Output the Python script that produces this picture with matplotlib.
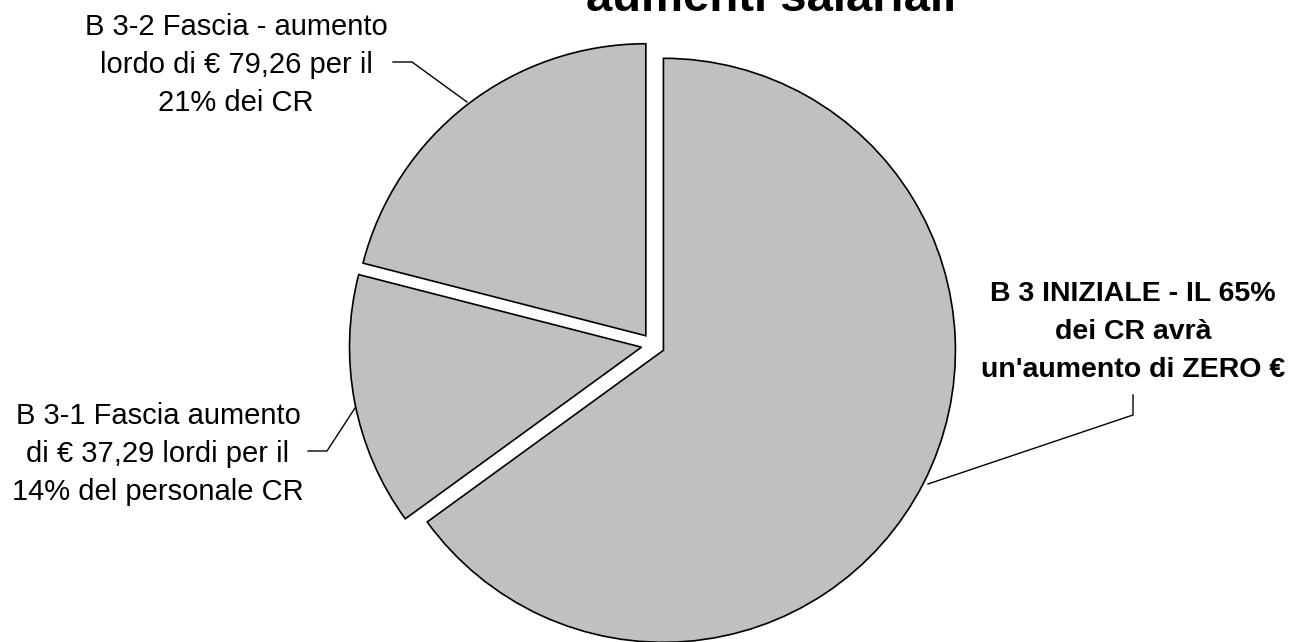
import matplotlib
matplotlib.use("Agg")
import matplotlib.pyplot as plt

# Data
categories = ["B 3 INIZIALE", "B 3-1 Fascia", "B 3-2 Fascia"]
shares = [65, 14, 21]
labels = [
    "B 3 INIZIALE - IL 65%\ndei CR avrà\nun'aumento di ZERO €",
    "B 3-1 Fascia aumento\ndi € 37,29 lordi per il\n14% del personale CR",
    "B 3-2 Fascia - aumento\nlordo di € 79,26 per il\n21% dei CR",
]
title = "aumenti salariali"

W, H = 1307, 642
fig = plt.figure(figsize=(W / 100, H / 100), dpi=100)
ax = fig.add_axes([0, 0, 1, 1])
ax.set_xlim(0, W)
ax.set_ylim(0, H)
ax.set_aspect("equal")
ax.axis("off")

def Y(y):
    return H - y

ax.pie(shares, startangle=90, counterclock=False, center=(653, Y(345)),
       radius=292, explode=[11.7, 11.7, 11.7],
       wedgeprops=dict(facecolor="#C0C0C0", edgecolor="black", linewidth=1.2))
ax.set_xlim(0, W)
ax.set_ylim(0, H)

font = "Liberation Sans"

# title (partly cut off at top, as in the reference)
ax.text(771, Y(11), title, ha="center", va="baseline", fontsize=34,
        fontweight="bold", family=font)

# labels (va='baseline' aligns the last line's baseline)
ax.text(1133, Y(377), labels[0], ha="center", va="baseline", fontsize=20.5,
        fontweight="bold", family=font, linespacing=1.6)
ax.text(158, Y(500), labels[1], ha="center", va="baseline", fontsize=21,
        family=font, linespacing=1.45)
ax.text(236, Y(111), labels[2], ha="center", va="baseline", fontsize=21,
        family=font, linespacing=1.45)

# leader lines
ax.plot([1133, 1133, 928], [Y(395), Y(415), Y(484)], color="black", lw=1)
ax.plot([308, 327, 355], [Y(451), Y(451), Y(408)], color="black", lw=1)
ax.plot([393, 412, 467], [Y(62), Y(62), Y(102)], color="black", lw=1)

fig.savefig("out.png", dpi=100)
